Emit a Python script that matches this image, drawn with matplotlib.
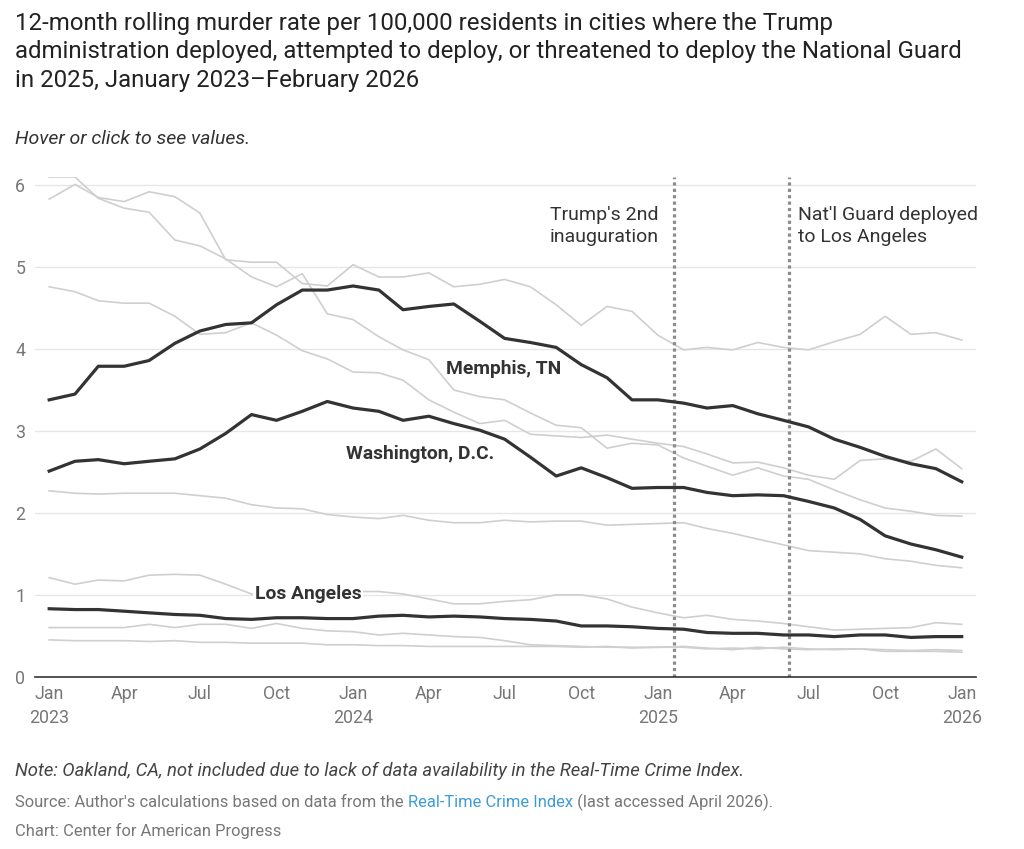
import numpy as np
import pandas as pd
import matplotlib
matplotlib.use("Agg")
import matplotlib.pyplot as plt

plt.rcParams['font.family'] = ['Roboto', 'DejaVu Sans']

months = pd.date_range("2023-01-01", periods=37, freq="MS")

memphis = [3.38, 3.45, 3.79, 3.79, 3.86, 4.07, 4.22, 4.30, 4.32, 4.54, 4.72, 4.72,
           4.77, 4.72, 4.48, 4.52, 4.55, 4.34, 4.13, 4.08, 4.02, 3.81, 3.65, 3.38,
           3.38, 3.34, 3.28, 3.31, 3.21, 3.13, 3.05, 2.90, 2.80, 2.69, 2.60, 2.54, 2.38]
washington = [2.51, 2.63, 2.65, 2.60, 2.63, 2.66, 2.78, 2.97, 3.20, 3.13, 3.24, 3.36,
              3.28, 3.24, 3.13, 3.18, 3.09, 3.01, 2.90, 2.68, 2.45, 2.55, 2.43, 2.30,
              2.31, 2.31, 2.25, 2.21, 2.22, 2.21, 2.14, 2.06, 1.92, 1.72, 1.62, 1.55, 1.46]
los_angeles = [0.83, 0.82, 0.82, 0.80, 0.78, 0.76, 0.75, 0.71, 0.70, 0.72, 0.72, 0.71,
               0.71, 0.74, 0.75, 0.73, 0.74, 0.73, 0.71, 0.70, 0.68, 0.62, 0.62, 0.61,
               0.59, 0.58, 0.54, 0.53, 0.53, 0.51, 0.51, 0.49, 0.51, 0.51, 0.48, 0.49, 0.49]

# other cities (unlabelled, gray)
others = [
    [6.10, 6.10, 5.84, 5.72, 5.67, 5.33, 5.26, 5.10, 4.88, 4.76, 4.92, 4.43,
     4.36, 4.15, 3.99, 3.87, 3.50, 3.42, 3.38, 3.22, 3.07, 3.04, 2.79, 2.85,
     2.83, 2.67, 2.57, 2.46, 2.55, 2.45, 2.41, 2.28, 2.16, 2.06, 2.02, 1.97, 1.96],
    [5.83, 6.01, 5.85, 5.80, 5.92, 5.86, 5.66, 5.09, 5.06, 5.06, 4.80, 4.77,
     5.03, 4.88, 4.88, 4.93, 4.76, 4.79, 4.85, 4.76, 4.54, 4.29, 4.52, 4.46,
     4.17, 3.99, 4.02, 3.99, 4.08, 4.02, 3.99, 4.09, 4.18, 4.40, 4.18, 4.20, 4.11],
    [4.76, 4.70, 4.59, 4.56, 4.56, 4.40, 4.18, 4.20, 4.32, 4.17, 3.98, 3.88,
     3.72, 3.71, 3.62, 3.38, 3.23, 3.09, 3.13, 2.96, 2.94, 2.92, 2.95, 2.90,
     2.85, 2.81, 2.72, 2.61, 2.62, 2.55, 2.46, 2.41, 2.64, 2.66, 2.63, 2.78, 2.54],
    [2.27, 2.24, 2.23, 2.24, 2.24, 2.24, 2.21, 2.18, 2.10, 2.06, 2.05, 1.98,
     1.95, 1.93, 1.97, 1.91, 1.88, 1.88, 1.91, 1.89, 1.90, 1.90, 1.85, 1.86,
     1.87, 1.88, 1.81, 1.75, 1.68, 1.61, 1.54, 1.52, 1.50, 1.44, 1.41, 1.36, 1.33],
    [1.21, 1.13, 1.18, 1.17, 1.24, 1.25, 1.24, 1.13, 1.01, 0.97, 1.00, 1.02,
     1.04, 1.04, 1.01, 0.95, 0.89, 0.89, 0.92, 0.94, 1.00, 1.00, 0.95, 0.85,
     0.78, 0.72, 0.75, 0.70, 0.68, 0.65, 0.61, 0.57, 0.58, 0.59, 0.60, 0.66, 0.64],
    [0.60, 0.60, 0.60, 0.60, 0.64, 0.60, 0.64, 0.64, 0.59, 0.65, 0.59, 0.56,
     0.55, 0.51, 0.53, 0.51, 0.49, 0.48, 0.44, 0.39, 0.38, 0.37, 0.36, 0.36,
     0.36, 0.37, 0.35, 0.33, 0.36, 0.34, 0.33, 0.34, 0.34, 0.31, 0.31, 0.31, 0.30],
    [0.45, 0.44, 0.44, 0.44, 0.43, 0.44, 0.42, 0.42, 0.41, 0.41, 0.41, 0.39,
     0.39, 0.38, 0.38, 0.37, 0.37, 0.37, 0.37, 0.37, 0.37, 0.36, 0.37, 0.35,
     0.36, 0.36, 0.34, 0.35, 0.34, 0.36, 0.34, 0.33, 0.34, 0.33, 0.32, 0.33, 0.32],
]

events = [("2025-01-20", "Trump's 2nd\ninauguration", "right"),
          ("2025-06-07", "Nat'l Guard deployed\nto Los Angeles", "left")]

fig = plt.figure(figsize=(10.24, 8.49), dpi=100)
ax = fig.add_axes([0.0342, 0.2029, 0.9188, 0.5886])

for s in others:
    ax.plot(months, s, color="#cfcfcf", lw=1.2, zorder=2)
for s in (memphis, washington, los_angeles):
    ax.plot(months, s, color="#333333", lw=2.3, zorder=4)

ax.set_ylim(0, 6.1)
ax.set_xlim(pd.Timestamp("2022-12-15"), pd.Timestamp("2026-01-18"))
ax.set_yticks([0, 1, 2, 3, 4, 5, 6])
ax.grid(axis="y", color="#e6e6e6", lw=1, zorder=0)
ax.set_axisbelow(True)
for sp in ("top", "right", "left"):
    ax.spines[sp].set_visible(False)
ax.spines["bottom"].set_color("#333333")
ax.spines["bottom"].set_linewidth(1.2)
ax.spines["bottom"].set_zorder(5)

ticks = pd.date_range("2023-01-01", "2026-01-01", freq="3MS")
ax.set_xticks(ticks)
ax.set_xticklabels([f"Jan\n{t.year}" if t.month == 1 else t.strftime("%b") for t in ticks],
                   linespacing=1.45)
ax.tick_params(axis="both", length=0, labelsize=12.8, labelcolor="#777777")
ax.tick_params(axis="x", pad=6)
ax.tick_params(axis="y", pad=7)

for d, label, ha in events:
    x = pd.Timestamp(d)
    ax.axvline(x, color="#8c8c8c", lw=2.3, linestyle=(0, (1, 1)), zorder=3)
    off = -11 if ha == "right" else 7
    ax.annotate(label, xy=(x, 5.75), xytext=(off, 0), textcoords="offset points",
                ha=ha, va="top", fontsize=14, color="#333333", linespacing=1.28)

labels = [("Memphis, TN", "2024-06-30", 3.76),
          ("Washington, D.C.", "2024-03-22", 2.72),
          ("Los Angeles", "2023-11-08", 1.01)]
for txt, d, y in labels:
    ax.text(pd.Timestamp(d), y, txt, ha="center", va="center", fontsize=13.9,
            fontweight="bold", color="#333333", zorder=6,
            bbox=dict(facecolor="white", edgecolor="none", pad=1.0) if txt == "Los Angeles" else None)

# title and notes
fig.text(0.0146, 0.986, "12-month rolling murder rate per 100,000 residents in cities where the Trump\n"
         "administration deployed, attempted to deploy, or threatened to deploy the National Guard\n"
         "in 2025, January 2023\u2013February 2026",
         ha="left", va="top", fontsize=17.3, color="#222222", linespacing=1.3)
fig.text(0.0146, 0.836, "Hover or click to see values.", ha="left", va="center",
         fontsize=14, style="italic", color="#333333")
fig.text(0.0146, 0.092, "Note: Oakland, CA, not included due to lack of data availability in the Real-Time Crime Index.",
         ha="left", va="center", fontsize=13.3, style="italic", color="#444444")

pieces = [("Source: Author's calculations based on data from the ", "#777777"),
          ("Real-Time Crime Index", "#3d9cd6"),
          (" (last accessed April 2026).", "#777777")]
fig.canvas.draw()
r = fig.canvas.get_renderer()
x0 = 0.0146
for txt, c in pieces:
    t = fig.text(x0, 0.055, txt, ha="left", va="center", fontsize=11.9, color=c)
    bb = t.get_window_extent(renderer=r)
    x0 = bb.x1 / fig.bbox.width
fig.text(0.0146, 0.021, "Chart: Center for American Progress", ha="left", va="center",
         fontsize=11.9, color="#777777")

fig.savefig("out.png", dpi=100)
